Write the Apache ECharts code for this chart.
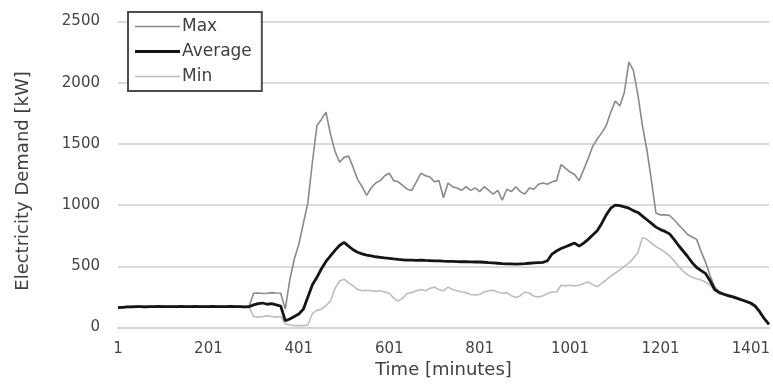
<!DOCTYPE html>
<html>
<head>
<meta charset="utf-8">
<script src="https://cdn.jsdelivr.net/npm/echarts@6/dist/echarts.min.js"></script>
<style>
  html, body { margin: 0; padding: 0; background: #fff; }
  #chart { width: 773px; height: 389px; }
</style>
</head>
<body>
<div id="chart"></div>
<script>
// Sampling minutes of the day (every 10 minutes, 1 .. 1441)
const minutes = [];
for (let m = 1; m <= 1441; m += 10) minutes.push(String(m));

// Electricity demand [kW] at each sampled minute
const maxDemand = [
  166,169,172,172,174,174,172,174,174,176,
  174,174,174,174,176,174,174,176,174,174,
  174,176,174,174,174,176,174,174,172,174,
  280,282,278,280,285,282,280,150,390,560,
  680,850,1020,1350,1650,1700,1760,1580,1440,1350,
  1390,1400,1310,1210,1150,1080,1140,1180,1200,1240,
  1260,1200,1190,1160,1130,1120,1190,1260,1240,1230,
  1190,1200,1060,1180,1150,1140,1120,1150,1120,1140,
  1110,1150,1120,1090,1120,1040,1130,1110,1150,1110,
  1090,1140,1130,1170,1180,1170,1190,1200,1330,1300,
  1270,1250,1200,1290,1380,1480,1540,1590,1650,1760,
  1850,1810,1920,2170,2100,1900,1650,1450,1200,935,
  920,920,915,880,840,800,760,740,720,620,
  530,420,330,292,278,265,255,242,230,216,
  204,180,132,75,28
];

const avgDemand = [
  162,165,168,168,170,170,168,170,170,172,
  170,170,170,170,172,170,170,172,170,170,
  170,172,170,170,170,172,170,170,168,170,
  185,195,200,190,195,185,175,55,70,90,
  110,150,250,350,410,480,540,585,630,670,
  695,665,635,615,602,592,585,578,573,568,
  565,560,556,553,550,550,548,550,548,547,
  545,545,542,540,540,538,537,538,536,535,
  535,533,530,528,525,522,520,520,518,520,
  522,525,528,530,532,545,600,625,645,660,
  675,690,665,690,720,755,790,850,920,975,
  1000,995,985,975,955,940,910,880,850,820,
  800,785,765,720,670,625,580,530,490,465,
  440,380,310,285,272,260,250,238,225,212,
  198,172,125,70,25
];

const minDemand = [
  158,161,164,164,166,166,164,166,166,168,
  166,166,166,166,168,166,166,168,166,166,
  166,168,166,166,166,168,166,166,164,166,
  90,85,90,95,90,85,90,30,20,15,
  15,15,20,115,140,150,180,215,320,380,
  395,365,340,310,300,305,300,295,300,290,
  280,240,215,240,280,285,300,310,300,320,
  330,310,300,330,310,300,290,285,270,265,
  270,290,300,305,290,280,285,260,245,260,
  290,280,255,250,260,280,290,290,345,340,
  345,340,345,360,372,350,335,360,390,420,
  445,470,500,526,565,610,735,720,690,660,
  640,615,585,545,500,460,430,410,398,388,
  370,345,300,280,265,252,245,232,220,206,
  192,165,118,65,20
];

const seriesNames = ['Max', 'Average', 'Min'];

const font = 'DejaVu Sans';
const colors = { Max: '#8a8a8a', Average: '#151515', Min: '#bdbdbd' };
const widths = { Max: 1.6, Average: 2.8, Min: 1.6 };

// Plain line-segment legend keys, one per series
function lineIcon(w) {
  return 'path://M0,0L45,0L45,' + w + 'L0,' + w + 'Z';
}

const chart = echarts.init(document.getElementById('chart'), null, { renderer: 'canvas' });

chart.setOption({
  animation: false,
  backgroundColor: '#ffffff',
  grid: { left: 118, right: 3, top: 21.5, bottom: 61.5, containLabel: false },
  legend: {
    data: seriesNames.map(n => ({ name: n, icon: lineIcon(widths[n]) })),
    orient: 'vertical',
    left: 128,
    top: 12,
    padding: [6, 10, 6, 7],
    itemWidth: 45,
    itemHeight: 14,
    itemGap: 8,
    symbolKeepAspect: true,
    borderColor: '#4d4d4d',
    borderWidth: 2,
    backgroundColor: '#ffffff',
    textStyle: { fontFamily: font, fontSize: 17, color: '#404040', padding: [0, 0, 0, -3] }
  },
  xAxis: {
    type: 'category',
    data: minutes,
    boundaryGap: false,
    name: 'Time [minutes]',
    nameLocation: 'middle',
    nameGap: 32,
    nameTextStyle: { fontFamily: font, fontSize: 18, color: '#404040' },
    axisLine: { lineStyle: { color: '#d4d4d4', width: 2 } },
    axisTick: { show: false },
    axisLabel: {
      interval: function (index) { return index % 20 === 0; },
      margin: 14,
      fontFamily: font,
      fontSize: 15,
      color: '#454545'
    },
    splitLine: { show: false }
  },
  yAxis: {
    type: 'value',
    min: 0,
    max: 2500,
    interval: 500,
    axisLine: { show: false },
    axisTick: { show: false },
    axisLabel: {
      margin: 18, fontFamily: font, fontSize: 15, color: '#454545',
      formatter: function (v) { return String(v); }
    },
    splitLine: { lineStyle: { color: '#dadada', width: 2 } }
  },
  graphic: [{
    type: 'text',
    x: 23,
    y: 181,
    rotation: Math.PI / 2,
    style: {
      text: 'Electricity Demand [kW]',
      fontFamily: font,
      fontSize: 18,
      fill: '#404040',
      align: 'center',
      verticalAlign: 'middle'
    }
  }],
  series: [
    {
      name: 'Max', type: 'line', data: maxDemand, symbol: 'none', z: 2,
      lineStyle: { color: colors.Max, width: widths.Max }, itemStyle: { color: colors.Max }
    },
    {
      name: 'Min', type: 'line', data: minDemand, symbol: 'none', z: 3,
      lineStyle: { color: colors.Min, width: widths.Min }, itemStyle: { color: colors.Min }
    },
    {
      name: 'Average', type: 'line', data: avgDemand, symbol: 'none', z: 4,
      lineStyle: { color: colors.Average, width: widths.Average }, itemStyle: { color: colors.Average }
    }
  ]
});
</script>
</body>
</html>
